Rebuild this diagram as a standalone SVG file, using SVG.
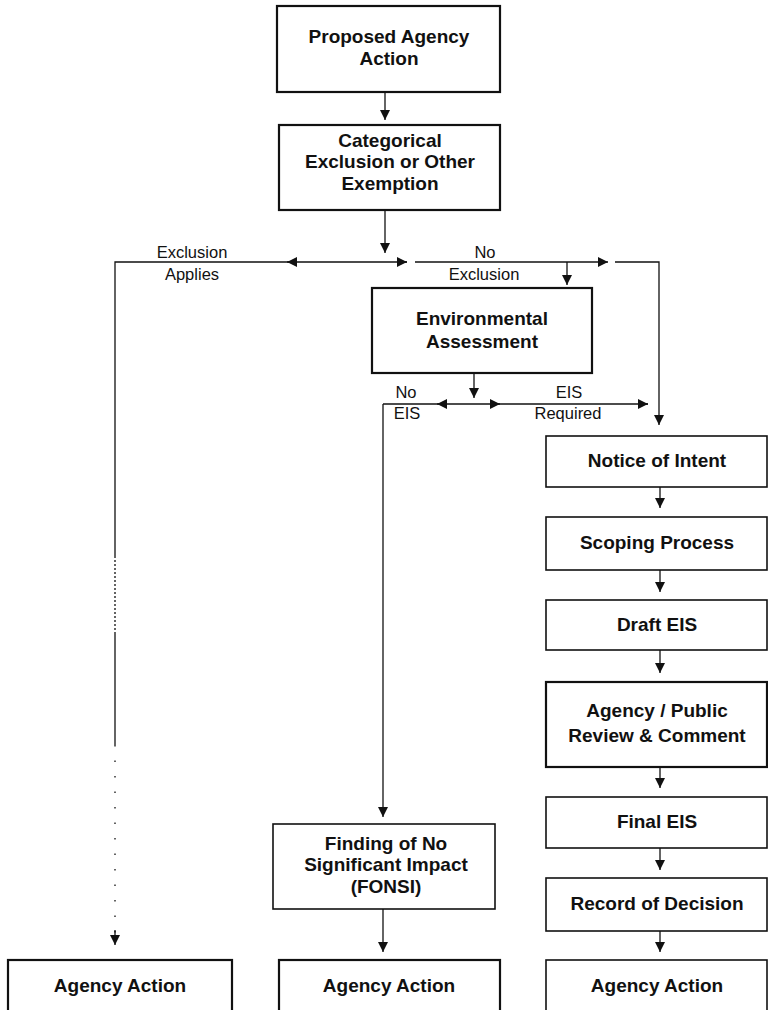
<svg xmlns="http://www.w3.org/2000/svg" width="768" height="1010" viewBox="0 0 768 1010">
<defs>
<style>
.box{fill:#fff;stroke:#111;stroke-width:1.6}
.boxb{fill:#fff;stroke:#111;stroke-width:2.2}
.t{font-family:"Liberation Sans",Arial,sans-serif;font-weight:bold;font-size:19px;fill:#111;text-anchor:middle}
.l{font-family:"Liberation Sans",Arial,sans-serif;font-size:16.5px;fill:#111;text-anchor:middle}
.c{fill:none;stroke:#111;stroke-width:1.3}
.a{fill:none;stroke:#111;stroke-width:1.3;marker-end:url(#ah)}
</style>
<marker id="ah" viewBox="0 0 10 10" refX="10" refY="5" markerWidth="10" markerHeight="10" markerUnits="userSpaceOnUse" orient="auto">
<path d="M0,0 L10,5 L0,10 z" fill="#111"/>
</marker>
</defs>
<rect width="768" height="1010" fill="#fff"/>

<g id="connectors">
<path class="a" d="M385 92 V120"/>
<path class="a" d="M385 210 V253"/>
<path class="c" d="M407 262 H115 V556"/>
<path class="c" d="M115 556 V633" stroke-dasharray="2 2"/>
<path class="c" d="M115 633 V745"/>
<path class="c" d="M115 745 V935" stroke-dasharray="1.5 14"/>
<path class="a" d="M115 930 V945"/>
<path class="a" d="M297 262 H287"/>
<path class="a" d="M397 262 H407"/>
<path class="a" d="M415 262 H608"/>
<path class="a" d="M567 262 V285"/>
<path class="a" d="M615 262 H659 V425"/>
<path class="a" d="M474 373 V398"/>
<path class="c" d="M648 404 H383"/>
<path class="a" d="M383 404 V817"/>
<path class="a" d="M447 404 H437"/>
<path class="a" d="M490 404 H500"/>
<path class="a" d="M638 404 H648"/>
<path class="a" d="M660 487 V508"/>
<path class="a" d="M660 570 V592"/>
<path class="a" d="M660 650 V673"/>
<path class="a" d="M660 767 V788"/>
<path class="a" d="M660 848 V870"/>
<path class="a" d="M660 931 V952"/>
<path class="a" d="M383 909 V952"/>
</g>

<g id="labels">
<text class="l" x="192" y="258">Exclusion</text>
<text class="l" x="192" y="280">Applies</text>
<text class="l" x="485" y="258">No</text>
<text class="l" x="484" y="280">Exclusion</text>
<text class="l" x="406" y="398">No</text>
<text class="l" x="407" y="419">EIS</text>
<text class="l" x="569" y="398">EIS</text>
<text class="l" x="568" y="419">Required</text>
</g>

<g id="n-proposed">
<rect class="boxb" x="277" y="6" width="223" height="86"/>
<text class="t" x="389" y="43">Proposed Agency</text>
<text class="t" x="389" y="65">Action</text>
</g>
<g id="n-catex">
<rect class="boxb" x="279" y="125" width="221" height="85"/>
<text class="t" x="390" y="147">Categorical</text>
<text class="t" x="390" y="168">Exclusion or Other</text>
<text class="t" x="390" y="190">Exemption</text>
</g>
<g id="n-ea">
<rect class="boxb" x="372" y="288" width="220" height="85"/>
<text class="t" x="482" y="325">Environmental</text>
<text class="t" x="482" y="348">Assessment</text>
</g>
<g id="n-noi">
<rect class="box" x="546" y="436" width="221" height="51"/>
<text class="t" x="657" y="467">Notice of Intent</text>
</g>
<g id="n-scoping">
<rect class="box" x="546" y="517" width="221" height="53"/>
<text class="t" x="657" y="549">Scoping Process</text>
</g>
<g id="n-draft">
<rect class="box" x="546" y="600" width="221" height="50"/>
<text class="t" x="657" y="631">Draft EIS</text>
</g>
<g id="n-review">
<rect class="boxb" x="546" y="682" width="221" height="85"/>
<text class="t" x="657" y="717">Agency / Public</text>
<text class="t" x="657" y="742">Review &amp; Comment</text>
</g>
<g id="n-final">
<rect class="box" x="546" y="797" width="221" height="51"/>
<text class="t" x="657" y="828">Final EIS</text>
</g>
<g id="n-rod">
<rect class="box" x="546" y="878" width="221" height="53"/>
<text class="t" x="657" y="910">Record of Decision</text>
</g>
<g id="n-fonsi">
<rect class="box" x="273" y="824" width="222" height="85"/>
<text class="t" x="386" y="850">Finding of No</text>
<text class="t" x="386" y="871">Significant Impact</text>
<text class="t" x="386" y="893">(FONSI)</text>
</g>
<g id="n-action-left">
<rect class="boxb" x="8" y="960" width="224" height="70"/>
<text class="t" x="120" y="992">Agency Action</text>
</g>
<g id="n-action-mid">
<rect class="boxb" x="279" y="960" width="221" height="70"/>
<text class="t" x="389" y="992">Agency Action</text>
</g>
<g id="n-action-right">
<rect class="box" x="546" y="960" width="221" height="70"/>
<text class="t" x="657" y="992">Agency Action</text>
</g>
</svg>
